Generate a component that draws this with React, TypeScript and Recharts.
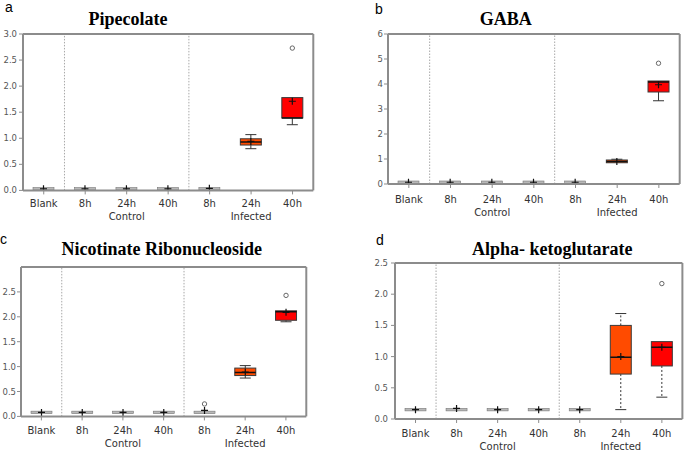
import { Bar, ComposedChart, ReferenceLine, XAxis, YAxis } from 'recharts';

const categories = ['Blank', '8h', '24h', '40h', '8h', '24h', '40h'];
const groupLabels = ['', '', 'Control', '', '', 'Infected', ''];
const groupStarts = [1, 4];

// Pipecolate
const pipLo = [0.02, 0.02, 0.02, 0.02, 0.02, 0.8, 1.26];
const pipQ1 = [0.02, 0.02, 0.02, 0.02, 0.02, 0.87, 1.39];
const pipMed = [0.03, 0.03, 0.03, 0.03, 0.03, 0.93, 1.39];
const pipQ3 = [0.03, 0.03, 0.03, 0.03, 0.03, 0.99, 1.78];
const pipHi = [0.03, 0.03, 0.03, 0.03, 0.04, 1.07, 1.78];
const pipMean = [0.03, 0.03, 0.03, 0.03, 0.04, 0.94, 1.71];
const pipOut = [null, null, null, null, null, null, 2.73];

// GABA
const gabaLo = [0.06, 0.06, 0.06, 0.06, 0.06, 0.84, 3.33];
const gabaQ1 = [0.06, 0.06, 0.06, 0.06, 0.06, 0.85, 3.68];
const gabaMed = [0.07, 0.07, 0.07, 0.07, 0.07, 0.9, 4.08];
const gabaQ3 = [0.07, 0.07, 0.07, 0.07, 0.07, 0.96, 4.12];
const gabaHi = [0.07, 0.07, 0.07, 0.07, 0.07, 0.99, 4.12];
const gabaMean = [0.07, 0.07, 0.07, 0.07, 0.07, 0.9, 3.97];
const gabaOut = [null, null, null, null, null, null, 4.83];

// Nicotinate Ribonucleoside
const nicLo = [0.08, 0.08, 0.08, 0.08, 0.08, 0.77, 1.9];
const nicQ1 = [0.08, 0.08, 0.08, 0.08, 0.08, 0.82, 1.93];
const nicMed = [0.08, 0.08, 0.08, 0.08, 0.08, 0.88, 2.1];
const nicQ3 = [0.08, 0.08, 0.08, 0.08, 0.08, 0.97, 2.12];
const nicHi = [0.09, 0.09, 0.09, 0.09, 0.09, 1.02, 2.12];
const nicMean = [0.08, 0.08, 0.08, 0.08, 0.12, 0.89, 2.09];
const nicOut = [null, null, null, null, 0.25, null, 2.43];

// Alpha-ketoglutarate
const akgLo = [0.14, 0.14, 0.14, 0.14, 0.14, 0.15, 0.35];
const akgQ1 = [0.14, 0.14, 0.14, 0.14, 0.14, 0.72, 0.85];
const akgMed = [0.15, 0.15, 0.15, 0.15, 0.15, 0.99, 1.15];
const akgQ3 = [0.15, 0.15, 0.15, 0.15, 0.15, 1.5, 1.24];
const akgHi = [0.15, 0.15, 0.15, 0.15, 0.15, 1.69, 1.24];
const akgMean = [0.15, 0.17, 0.15, 0.15, 0.15, 1.0, 1.15];
const akgOut = [null, null, null, null, null, null, 2.17];

const boxColors = ['#b8b8b8', '#b8b8b8', '#b8b8b8', '#b8b8b8', '#b8b8b8', '#ff4b00', '#ff0000'];
const frame = '#8c8c8c';

function rows(lo: number[], q1: number[], med: number[], q3: number[], hi: number[], mean: number[], out: (number | null)[]) {
  return categories.map((_, i) => ({
    key: i,
    lo: lo[i],
    q1: q1[i],
    med: med[i],
    q3: q3[i],
    hi: hi[i],
    mean: mean[i],
    out: out[i],
  }));
}

const BoxShape = (props: any) => {
  const { x, width, y, height, payload, dashed } = props;
  if (!payload || !(payload.hi > 0)) return null;
  // bar runs from 0 to hi, so the pixel scale comes straight from it
  const zero = y + height;
  const k = height / payload.hi;
  const py = (v: number) => zero - v * k;
  const cx = x + width / 2;
  const top = py(payload.q3);
  const bot = py(payload.q1);
  const flat = bot - top < 1.5;
  const wl = py(payload.lo);
  const wh = py(payload.hi);
  const m = py(payload.mean);
  const dash = dashed ? '2 2' : undefined;
  return (
    <g>
      {!flat && wl - bot > 0.5 && (
        <>
          <line x1={cx} x2={cx} y1={bot} y2={wl} stroke="#333" strokeDasharray={dash} />
          <line x1={cx - 5.5} x2={cx + 5.5} y1={wl} y2={wl} stroke="#333" />
        </>
      )}
      {!flat && top - wh > 0.5 && (
        <>
          <line x1={cx} x2={cx} y1={top} y2={wh} stroke="#333" strokeDasharray={dash} />
          <line x1={cx - 5.5} x2={cx + 5.5} y1={wh} y2={wh} stroke="#333" />
        </>
      )}
      {flat ? (
        <rect x={x} y={py(payload.med) - 1.25} width={width} height={2.5} fill="#b8b8b8" stroke="#777" strokeWidth={0.6} />
      ) : (
        <>
          <rect x={x} y={top} width={width} height={bot - top} fill={boxColors[payload.key]} stroke="#3a3a3a" />
          <line x1={x} x2={x + width} y1={py(payload.med)} y2={py(payload.med)} stroke="#111" strokeWidth={1.5} />
        </>
      )}
      <line x1={cx - 3.5} x2={cx + 3.5} y1={m} y2={m} stroke="#111" strokeWidth={1.2} />
      <line x1={cx} x2={cx} y1={m - 3.5} y2={m + 3.5} stroke="#111" strokeWidth={1.2} />
      {payload.out != null && (
        <circle cx={cx} cy={py(payload.out)} r={2.2} fill="#fff" stroke="#666" strokeWidth={1} />
      )}
    </g>
  );
};

const XTick = (props: any) => {
  const { x, y, payload } = props;
  const i = Number(payload.value);
  return (
    <g>
      <text x={x} y={y} dy="0.71em" textAnchor="middle" fontSize={10} fill="#333" fontFamily="DejaVu Sans">
        {categories[i]}
      </text>
      {groupLabels[i] && (
        <text x={x} y={y + 13} dy="0.71em" textAnchor="middle" fontSize={10} fill="#333" fontFamily="DejaVu Sans">
          {groupLabels[i]}
        </text>
      )}
    </g>
  );
};

interface PanelProps {
  data: ReturnType<typeof rows>;
  plot: { x0: number; x1: number; y0: number; y1: number };
  yMax: number;
  yTicks: number[];
  decimals: number;
  yMargin: number;
  xMargin: number;
  dashed?: boolean;
}

function Panel({ data, plot, yMax, yTicks, decimals, yMargin, xMargin, dashed }: PanelProps) {
  const yw = 40;
  const w = plot.x1 - plot.x0 + yw + 4;
  const h = plot.y1 - plot.y0 + 5 + 40;
  const line = { stroke: frame, strokeWidth: 2 };
  return (
    <div style={{ position: 'absolute', left: plot.x0 - yw, top: plot.y0 - 5 }}>
      <ComposedChart width={w} height={h} data={data} margin={{ top: 4, right: 3, left: 0, bottom: 0 }}>
        <XAxis
          xAxisId="cat"
          dataKey="key"
          height={40}
          interval={0}
          tickSize={4}
          tickMargin={xMargin}
          axisLine={line}
          tickLine={{ stroke: frame }}
          tick={(p: any) => <XTick {...p} />}
        />
        <XAxis xAxisId="top" dataKey="key" orientation="top" height={1} tick={false} tickLine={false} axisLine={line} />
        <YAxis
          yAxisId="left"
          domain={[0, yMax]}
          ticks={yTicks}
          interval={0}
          width={yw}
          tickSize={4}
          tickMargin={yMargin}
          allowDataOverflow
          axisLine={line}
          tickLine={{ stroke: frame }}
          tick={{ fontSize: 8.5, fill: '#555', fontFamily: 'DejaVu Sans' }}
          tickFormatter={(v: number) => v.toFixed(decimals)}
        />
        <YAxis
          yAxisId="right"
          orientation="right"
          domain={[0, yMax]}
          width={1}
          tick={false}
          tickLine={false}
          axisLine={line}
        />
        {groupStarts.map((g) => (
          <ReferenceLine
            key={g}
            xAxisId="cat"
            yAxisId="left"
            x={g}
            position="start"
            stroke="#a8a8a8"
            strokeDasharray="1.5 1.5"
          />
        ))}
        <Bar
          xAxisId="cat"
          yAxisId="left"
          dataKey="hi"
          barSize={21}
          isAnimationActive={false}
          shape={(p: any) => <BoxShape {...p} dashed={dashed} />}
        />
      </ComposedChart>
    </div>
  );
}

const titleStyle = { fontFamily: 'Liberation Serif', fontWeight: 700, fontSize: 18 } as const;
const letterStyle = { fontFamily: 'Liberation Sans', fontSize: 14 } as const;

export default function App() {
  return (
    <div style={{ position: 'absolute', left: 0, top: 0, width: 685, height: 451, background: '#fff', overflow: 'hidden' }}>
      <Panel
        data={rows(pipLo, pipQ1, pipMed, pipQ3, pipHi, pipMean, pipOut)}
        plot={{ x0: 22.7, x1: 313, y0: 34.3, y1: 190.7 }}
        yMax={3}
        yTicks={[0, 0.5, 1, 1.5, 2, 2.5, 3]}
        decimals={1}
        yMargin={2}
        xMargin={6}
      />
      <Panel
        data={rows(gabaLo, gabaQ1, gabaMed, gabaQ3, gabaHi, gabaMean, gabaOut)}
        plot={{ x0: 388.3, x1: 680, y0: 34.3, y1: 184.3 }}
        yMax={6}
        yTicks={[0, 1, 2, 3, 4, 5, 6]}
        decimals={0}
        yMargin={1}
        xMargin={8}
      />
      <Panel
        data={rows(nicLo, nicQ1, nicMed, nicQ3, nicHi, nicMean, nicOut)}
        plot={{ x0: 20.7, x1: 306, y0: 267.3, y1: 416.7 }}
        yMax={3}
        yTicks={[0, 0.5, 1, 1.5, 2, 2.5]}
        decimals={1}
        yMargin={1}
        xMargin={7}
      />
      <Panel
        data={rows(akgLo, akgQ1, akgMed, akgQ3, akgHi, akgMean, akgOut)}
        plot={{ x0: 395.3, x1: 682.7, y0: 263.3, y1: 419.3 }}
        yMax={2.5}
        yTicks={[0, 0.5, 1, 1.5, 2, 2.5]}
        decimals={1}
        yMargin={3}
        xMargin={7}
        dashed
      />
      <svg width={685} height={451} style={{ position: 'absolute', left: 0, top: 0, pointerEvents: 'none' }}>
        <text x={128} y={25} textAnchor="middle" style={titleStyle}>Pipecolate</text>
        <text x={505.7} y={25} textAnchor="middle" style={titleStyle}>GABA</text>
        <text x={161.7} y={255} textAnchor="middle" style={titleStyle}>Nicotinate Ribonucleoside</text>
        <text x={552.3} y={255} textAnchor="middle" style={titleStyle}>Alpha- ketoglutarate</text>
        <text x={5} y={12} style={letterStyle}>a</text>
        <text x={375} y={13.5} style={letterStyle}>b</text>
        <text x={0} y={244} style={letterStyle}>c</text>
        <text x={376} y={245} style={letterStyle}>d</text>
      </svg>
    </div>
  );
}
